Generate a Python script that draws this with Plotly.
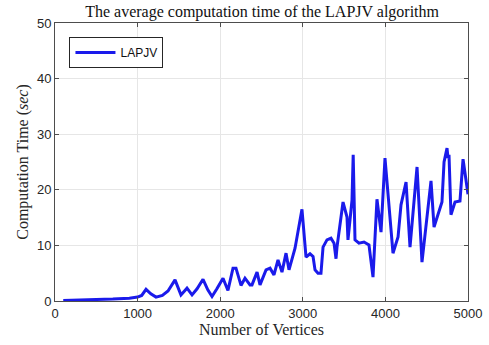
import plotly.graph_objects as go

vertices = [100, 300, 500, 700, 900, 1000, 1050, 1102, 1160, 1223, 1300, 1368, 1453, 1525, 1598, 1659, 1720, 1792,
            1850, 1901, 1960, 2034, 2094, 2155, 2191, 2252, 2300, 2361, 2385, 2446, 2482, 2555, 2603,
            2651, 2700, 2748, 2797, 2833, 2906, 2990, 3039, 3087, 3124, 3148, 3184, 3220, 3245,
            3293, 3341, 3378, 3402, 3414, 3487, 3535, 3547, 3596, 3610, 3632, 3680, 3741, 3801,
            3850, 3898, 3947, 3995, 4044, 4092, 4153, 4189, 4250, 4298, 4383, 4443, 4552, 4589,
            4685, 4710, 4746, 4758, 4770, 4794, 4843, 4903, 4940, 5000]
times = [0.1, 0.15, 0.2, 0.35, 0.5, 0.7, 1.0, 2.1, 1.3, 0.7, 1.0, 1.8, 3.8, 1.1, 2.3, 1.1, 2.2, 3.9,
         2.0, 0.8, 2.2, 4.1, 1.9, 5.9, 5.9, 2.8, 4.1, 2.9, 2.9, 5.2, 2.9, 5.6, 5.9,
         4.7, 7.4, 5.2, 8.6, 5.6, 9.5, 16.5, 7.9, 8.5, 8.0, 5.6, 5.0, 5.0, 9.7,
         11.0, 11.3, 10.4, 7.6, 9.7, 17.8, 15.1, 11.0, 18.2, 26.3, 11.0, 10.4, 10.6, 10.1,
         4.3, 18.3, 12.4, 25.7, 16.9, 8.6, 11.5, 17.3, 21.4, 9.7, 24.1, 7.0, 21.6, 13.3,
         17.8, 25.0, 27.5, 25.7, 26.3, 15.5, 17.8, 18.0, 25.5, 19.2]

x_ticks = [0, 1000, 2000, 3000, 4000, 5000]
y_ticks = [0, 10, 20, 30, 40, 50]

fig = go.Figure()
fig.add_trace(go.Scatter(x=vertices, y=times, mode="lines", name="LAPJV",
                         line=dict(color="rgb(26,26,235)", width=3)))

axis_common = dict(showline=True, linecolor="#4d4d4d", linewidth=1, mirror="ticks",
                   ticks="inside", ticklen=4, tickcolor="#4d4d4d",
                   showgrid=True, gridcolor="#e6e6e6", gridwidth=1, zeroline=False,
                   automargin=False,
                   tickfont=dict(family="Liberation Sans, Arial", size=13, color="#262626"))

fig.update_layout(
    width=489, height=345,
    margin=dict(l=55, r=21, t=23, b=44, autoexpand=False),
    paper_bgcolor="white", plot_bgcolor="white",
    title=dict(text="The average computation time of the LAPJV algorithm",
               x=0.536, xanchor="center", y=0.95, yanchor="bottom",
               font=dict(family="Liberation Serif, Times New Roman, serif", size=16, color="#111111")),
    xaxis=dict(range=[0, 5000], tickvals=x_ticks,
               title=dict(text="Number of Vertices", standoff=2,
                          font=dict(family="Liberation Serif, serif", size=16, color="#262626")),
               **axis_common),
    yaxis=dict(range=[0, 50], tickvals=y_ticks,
               title=dict(text="Computation Time (<i>sec</i>)", standoff=4,
                          font=dict(family="Liberation Serif, serif", size=16, color="#262626")),
               **axis_common),
    showlegend=True,
    legend=dict(x=0.035, y=0.95, xanchor="left", yanchor="top",
                bgcolor="white", bordercolor="#262626", borderwidth=1,
                font=dict(family="Liberation Sans, Arial", size=12, color="#111111"),
                itemwidth=40),
)

fig.write_html("out.html")
